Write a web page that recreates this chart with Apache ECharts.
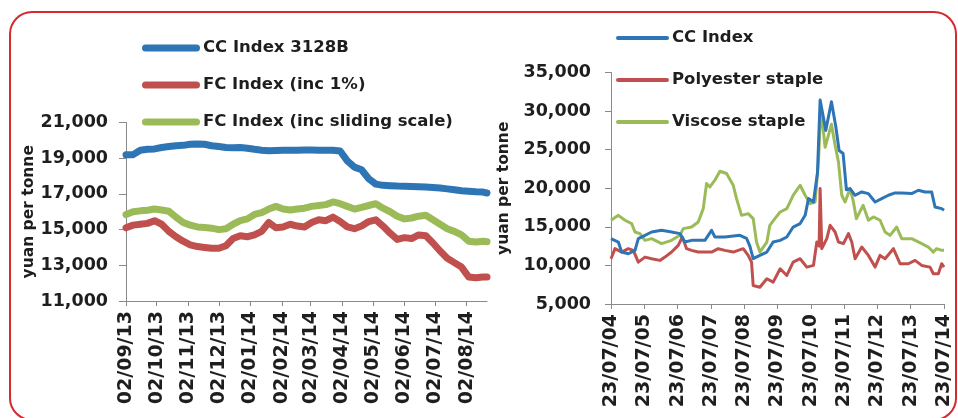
<!DOCTYPE html>
<html>
<head>
<meta charset="utf-8">
<script src="https://cdn.jsdelivr.net/npm/echarts@6/dist/echarts.min.js"></script>
<style>
html,body{margin:0;padding:0;background:#fff;}
#c{width:958px;height:418px;}
</style>
</head>
<body>
<div id="c"></div>
<script>
// ---------- LEFT CHART DATA (weekly samples from 02/09/13, last point 22/08/14) ----------
const leftStart = '2013-09-02';
const leftLastDay = 354;
const leftTickLabels = ['02/09/13','02/10/13','02/11/13','02/12/13','02/01/14','02/02/14','02/03/14','02/04/14','02/05/14','02/06/14','02/07/14','02/08/14'];
const leftYTicks = [11000,13000,15000,17000,19000,21000];
const ccIndex3128B = [19200,19200,19450,19500,19520,19600,19650,19700,19720,19780,19800,19780,19700,19650,19600,19580,19600,19560,19500,19450,19420,19430,19440,19450,19450,19460,19460,19450,19450,19440,19400,18850,18500,18350,17850,17550,17480,17460,17440,17430,17420,17400,17380,17360,17330,17280,17230,17180,17150,17120,17100,17050];
const fcInc1 = [15100,15250,15300,15350,15500,15300,14900,14600,14350,14150,14050,14000,13950,13950,14100,14500,14650,14600,14700,14900,15400,15100,15150,15300,15200,15150,15400,15550,15500,15700,15450,15150,15050,15200,15450,15550,15200,14800,14450,14550,14500,14700,14650,14250,13800,13400,13150,12900,12350,12300,12350,12350];
const fcSliding = [15840,16000,16050,16080,16150,16100,16030,15700,15400,15250,15150,15120,15080,15000,15050,15300,15500,15600,15850,15950,16150,16300,16150,16100,16150,16200,16300,16350,16400,16550,16450,16300,16150,16250,16350,16450,16200,16000,15750,15600,15650,15750,15800,15550,15300,15050,14900,14700,14350,14300,14350,14320];

// ---------- RIGHT CHART DATA (years since 23/07/04) ----------
const rightTickLabels = ['23/07/04','23/07/05','23/07/06','23/07/07','23/07/08','23/07/09','23/07/10','23/07/11','23/07/12','23/07/13','23/07/14'];
const ccYears = [0,0.22,0.32,0.52,0.72,0.82,1.02,1.22,1.52,1.82,2.07,2.22,2.42,2.82,3.02,3.12,3.42,3.87,4.07,4.17,4.27,4.47,4.68,4.87,5.08,5.28,5.47,5.68,5.83,5.93,6.08,6.2,6.28,6.45,6.62,6.75,6.85,6.97,7.07,7.18,7.33,7.53,7.73,7.93,8.13,8.33,8.53,8.73,9.03,9.23,9.43,9.63,9.73,9.93,10];
const ccValues = [13470,13030,11730,11510,11950,13470,13900,14330,14550,14330,14120,13030,13250,13250,14550,13680,13680,13900,13500,12500,10870,11300,11730,13030,13250,13680,14970,15420,16490,18660,18220,22000,31430,27500,31210,28000,24900,24500,19800,19960,19090,19520,19300,18220,18660,19090,19390,19390,19310,19740,19520,19500,17570,17360,17140];
const psfYears = [0,0.12,0.32,0.52,0.67,0.82,1.02,1.22,1.47,1.62,1.82,2.02,2.14,2.27,2.42,2.62,2.82,3.02,3.22,3.42,3.67,3.97,4.12,4.22,4.27,4.47,4.68,4.87,5.08,5.28,5.47,5.68,5.88,6.08,6.18,6.25,6.28,6.33,6.48,6.58,6.73,6.83,6.98,7.13,7.23,7.33,7.53,7.73,7.93,8.08,8.23,8.48,8.68,8.93,9.13,9.33,9.58,9.68,9.83,9.93,10];
const psfValues = [10870,12170,11730,12170,11950,10430,11080,10870,10650,11080,11730,12600,13680,12170,11950,11730,11730,11730,12170,11950,11730,12170,11300,10430,7400,7180,8270,7830,9570,8700,10430,10870,9780,10000,13030,12500,19960,12170,13470,15200,14330,13030,12820,14120,13030,10870,12380,11300,9780,11300,10870,12170,10220,10220,10650,10000,9780,8920,8920,10220,9780];
const vsfYears = [0,0.22,0.42,0.62,0.72,0.87,1.02,1.22,1.52,1.82,2.07,2.17,2.42,2.62,2.77,2.87,2.97,3.12,3.27,3.47,3.67,3.77,3.92,4.12,4.27,4.37,4.47,4.68,4.77,4.92,5.08,5.28,5.47,5.68,5.83,5.98,6.13,6.23,6.3,6.43,6.62,6.73,6.83,6.93,7.03,7.18,7.28,7.37,7.57,7.73,7.88,8.08,8.23,8.38,8.58,8.73,9.03,9.33,9.53,9.68,9.78,9.93,10];
const vsfValues = [15850,16490,15850,15420,14330,14120,13250,13470,12820,13250,13900,14770,14970,15620,17360,20610,20170,21040,22200,21910,20390,18660,16490,16710,16060,13030,11730,13030,15200,16060,16920,17360,19090,20390,19090,18010,18220,23420,30500,25300,28300,25580,23420,19090,18220,19960,18220,16060,17790,15850,16280,15850,14330,13900,14970,13470,13470,12820,12380,11730,12170,11950,11950];

// ---------- helpers ----------
const DAY = 86400000;
const startMs = Date.parse(leftStart + 'T00:00:00Z');
function labelToDay(s){ const p=s.split('/'); return Math.round((Date.UTC(2000+ +p[2], +p[1]-1, +p[0]) - startMs)/DAY); }
const leftTickDays = leftTickLabels.map(labelToDay);
const leftSampleDays = ccIndex3128B.map((_, i) => i < ccIndex3128B.length - 1 ? i * 7 : leftLastDay);
const pair = (xs, ys) => ys.map((v, i) => [xs[i], v]);

const FONT = 'DejaVu Sans';
const TXT = '#1e1e1e';
const AX = '#8a8a8a';
const BLUE = '#2e75b6', RED = '#c0504d', GREEN = '#9bbb59';

const chart = echarts.init(document.getElementById('c'), null, {renderer: 'canvas'});
const option = {
  animation: false,
  backgroundColor: '#fff',
  textStyle: {fontFamily: FONT},
  graphic: [{
    type: 'rect', silent: true, z: -1,
    shape: {x: 10, y: 12, width: 946, height: 408, r: 22},
    style: {fill: 'none', stroke: '#d42a30', lineWidth: 2}
  }],
  legend: [{
    orient: 'vertical', left: 137, top: 33,
    itemWidth: 58, itemHeight: 7, itemGap: 17,
    icon: 'path://M3.5,0H54.5A3.5,3.5,0,0,1,54.5,7H3.5A3.5,3.5,0,0,1,3.5,0Z',
    itemStyle: {borderWidth: 0},
    textStyle: {fontFamily: FONT, fontWeight: 'bold', fontSize: 16.5, color: TXT, lineHeight: 20, padding: [0,0,0,-2]},
    data: ['CC Index 3128B', 'FC Index (inc 1%)', 'FC Index (inc sliding scale)']
  }, {
    orient: 'vertical', left: 611, top: 23,
    itemWidth: 53, itemHeight: 4, itemGap: 22,
    icon: 'path://M2,0H51A2,2,0,0,1,51,4H2A2,2,0,0,1,2,0Z',
    itemStyle: {borderWidth: 0},
    textStyle: {fontFamily: FONT, fontWeight: 'bold', fontSize: 16.5, color: TXT, lineHeight: 20, padding: [0,0,0,-2]},
    data: ['CC Index', 'Polyester staple', 'Viscose staple']
  }],
  grid: [
    {left: 126, top: 122.5, width: 361, height: 178.5},
    {left: 611, top: 72.5, width: 333, height: 231.5}
  ],
  xAxis: [{
    gridIndex: 0, type: 'value', min: 0, max: leftLastDay,
    splitLine: {show: false},
    axisLine: {show: true, onZero: false, lineStyle: {color: AX, width: 1}},
    axisTick: {show: true, length: 5, customValues: leftTickDays, lineStyle: {color: AX}},
    axisLabel: {
      customValues: leftTickDays, rotate: 90, margin: 10,
      fontFamily: FONT, fontWeight: 'bold', fontSize: 19, color: TXT,
      formatter: v => leftTickLabels[leftTickDays.indexOf(Math.round(v))] || ''
    }
  }, {
    gridIndex: 1, type: 'value', min: 0, max: 10, interval: 1,
    splitLine: {show: false},
    axisLine: {show: true, onZero: false, lineStyle: {color: AX, width: 1}},
    axisTick: {show: true, length: 5, lineStyle: {color: AX}},
    axisLabel: {
      rotate: 90, margin: 10, showMinLabel: true, showMaxLabel: true,
      fontFamily: FONT, fontWeight: 'bold', fontSize: 19, color: TXT,
      formatter: v => rightTickLabels[Math.round(v)] || ''
    }
  }],
  yAxis: [{
    gridIndex: 0, type: 'value', min: 11000, max: 21000,
    splitLine: {show: false},
    axisLine: {show: true, lineStyle: {color: AX, width: 1}},
    axisTick: {show: true, length: 7, customValues: leftYTicks, lineStyle: {color: AX}},
    axisLabel: {customValues: leftYTicks, margin: 18, fontFamily: FONT, fontWeight: 'bold', fontSize: 17.5, color: TXT},
    name: 'yuan per tonne', nameLocation: 'middle', nameGap: 89,
    nameTextStyle: {fontFamily: FONT, fontWeight: 'bold', fontSize: 15.5, color: TXT}
  }, {
    gridIndex: 1, type: 'value', min: 5000, max: 35000, interval: 5000,
    splitLine: {show: false},
    axisLine: {show: true, lineStyle: {color: AX, width: 1}},
    axisTick: {show: true, length: 6, lineStyle: {color: AX}},
    axisLabel: {margin: 20, fontFamily: FONT, fontWeight: 'bold', fontSize: 17.5, color: TXT},
    name: 'yuan per tonne', nameLocation: 'middle', nameGap: 99,
    nameTextStyle: {fontFamily: FONT, fontWeight: 'bold', fontSize: 15.5, color: TXT}
  }],
  series: [
    {name: 'CC Index 3128B', type: 'line', xAxisIndex: 0, yAxisIndex: 0, showSymbol: false, color: BLUE,
     lineStyle: {width: 7, color: BLUE, cap: 'round', join: 'round'}, data: pair(leftSampleDays, ccIndex3128B)},
    {name: 'FC Index (inc 1%)', type: 'line', xAxisIndex: 0, yAxisIndex: 0, showSymbol: false, color: RED,
     lineStyle: {width: 7, color: RED, cap: 'round', join: 'round'}, data: pair(leftSampleDays, fcInc1)},
    {name: 'FC Index (inc sliding scale)', type: 'line', xAxisIndex: 0, yAxisIndex: 0, showSymbol: false, color: GREEN,
     lineStyle: {width: 7, color: GREEN, cap: 'round', join: 'round'}, data: pair(leftSampleDays, fcSliding)},
    {name: 'CC Index', type: 'line', xAxisIndex: 1, yAxisIndex: 1, showSymbol: false, color: BLUE, z: 4,
     lineStyle: {width: 3, color: BLUE, join: 'round'}, data: pair(ccYears, ccValues)},
    {name: 'Polyester staple', type: 'line', xAxisIndex: 1, yAxisIndex: 1, showSymbol: false, color: RED, z: 3,
     lineStyle: {width: 3, color: RED, join: 'round'}, data: pair(psfYears, psfValues)},
    {name: 'Viscose staple', type: 'line', xAxisIndex: 1, yAxisIndex: 1, showSymbol: false, color: GREEN, z: 3,
     lineStyle: {width: 3, color: GREEN, join: 'round'}, data: pair(vsfYears, vsfValues)}
  ]
};
chart.setOption(option);
</script>
</body>
</html>
